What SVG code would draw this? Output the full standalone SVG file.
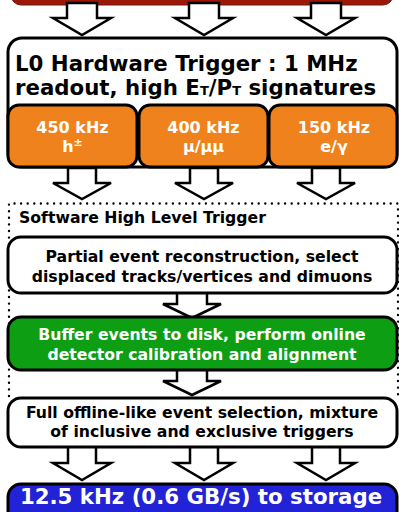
<svg xmlns="http://www.w3.org/2000/svg" width="399" height="512" viewBox="0 0 399 512">
<style>
text{font-family:"DejaVu Sans","Liberation Sans",sans-serif;font-weight:bold}
.box{stroke:#000;stroke-width:3}
.arr{fill:#fff;stroke:#000;stroke-width:2.5;stroke-linejoin:miter}
.dot{fill:none;stroke:#000;stroke-width:2.4;stroke-linecap:round;stroke-dasharray:0 6.6}
.c{text-anchor:middle}
.w{fill:#fff}
</style>
<rect width="399" height="512" fill="#fff"/>
<g id="source"><rect x="11" y="-20" width="382" height="25" rx="10" fill="#9b1708" stroke="#6e1a12" stroke-width="1"/></g>
<g id="connectors">
<path class="arr" d="M67,3 V18 H53 L82,35 L111,18 H97 V3 Z"/>
<path class="arr" d="M189,3 V18 H175 L204,35 L233,18 H219 V3 Z"/>
<path class="arr" d="M311,3 V18 H297 L326,35 L355,18 H341 V3 Z"/>
<path class="arr" d="M68,168 V183 H53 L82,199 L111,183 H96 V168 Z"/>
<path class="arr" d="M190,168 V183 H175 L204,199 L233,183 H218 V168 Z"/>
<path class="arr" d="M312,168 V183 H297 L326,199 L355,183 H340 V168 Z"/>
<path class="arr" d="M177,292 V304 H163 L192,318 L221,304 H207 V292 Z"/>
<path class="arr" d="M177,369 V381 H163 L192,395 L221,381 H207 V369 Z"/>
<path class="arr" d="M68,446 V463 H53 L82,480 L111,463 H96 V446 Z"/>
<path class="arr" d="M190,446 V463 H175 L204,480 L233,463 H218 V446 Z"/>
<path class="arr" d="M312,446 V463 H297 L326,480 L355,463 H340 V446 Z"/>
</g>
<g id="hlt-frame">
<path class="dot" d="M9,396 V203.5 H398 V396"/>
<text x="19" y="223" font-size="15.7">Software High Level Trigger</text>
</g>
<g id="l0">
<rect class="box" x="8" y="38" width="389" height="129" rx="14" fill="#fff"/>
<text x="15" y="71" font-size="21.3">L0 Hardware Trigger : 1 MHz</text>
<text x="15" y="95" font-size="21.3">readout, high E<tspan font-size="13">T</tspan>/P<tspan font-size="13">T</tspan> signatures</text>
</g>
<g id="l0-hadron">
<rect class="box" x="8" y="105" width="129" height="62" rx="11" fill="#f0821d"/>
<text class="c w" x="72.5" y="133" font-size="16">450 kHz</text>
<text class="c w" x="72.5" y="152" font-size="16">h<tspan font-size="11" dy="-6">±</tspan></text>
</g>
<g id="l0-muon">
<rect class="box" x="139" y="105" width="129" height="62" rx="11" fill="#f0821d"/>
<text class="c w" x="203.5" y="133" font-size="16">400 kHz</text>
<text class="c w" x="203.5" y="152" font-size="16">μ/μμ</text>
</g>
<g id="l0-electron">
<rect class="box" x="269" y="105" width="128" height="62" rx="11" fill="#f0821d"/>
<text class="c w" x="334" y="133" font-size="16">150 kHz</text>
<text class="c w" x="334" y="152" font-size="16">e/γ</text>
</g>
<g id="hlt1">
<rect class="box" x="8" y="237" width="389" height="56" rx="13" fill="#fff"/>
<text class="c" x="202" y="262" font-size="15.7">Partial event reconstruction, select</text>
<text class="c" x="202" y="282" font-size="15.7">displaced tracks/vertices and dimuons</text>
</g>
<g id="buffer">
<rect class="box" x="8" y="317" width="389" height="53" rx="13" fill="#0d9e14"/>
<text class="c w" x="202" y="340" font-size="15.7">Buffer events to disk, perform online</text>
<text class="c w" x="202" y="360" font-size="15.7">detector calibration and alignment</text>
</g>
<g id="hlt2">
<rect class="box" x="8" y="398" width="389" height="49" rx="13" fill="#fff"/>
<text class="c" x="202" y="418" font-size="15.7">Full offline-like event selection, mixture</text>
<text class="c" x="202" y="437" font-size="15.7">of inclusive and exclusive triggers</text>
</g>
<g id="storage">
<rect class="box" x="8" y="484" width="389" height="42" rx="13" fill="#2222d6"/>
<text class="c w" x="201" y="504" font-size="21.3">12.5 kHz (0.6 GB/s) to storage</text>
</g>
</svg>
